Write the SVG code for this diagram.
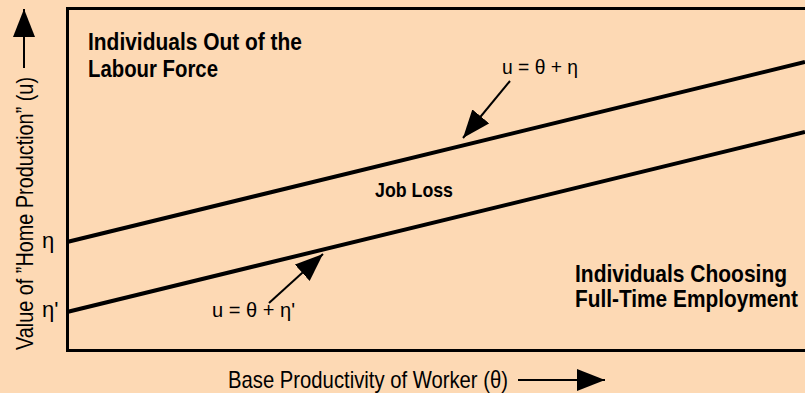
<svg xmlns="http://www.w3.org/2000/svg" width="805" height="393" viewBox="0 0 805 393">
<defs>
<style>
.bg{fill:#FDD9B4}
.frame{fill:none;stroke:#000;stroke-width:3}
.curve{fill:none;stroke:#000;stroke-width:4}
.arr{fill:none;stroke:#000;stroke-width:2;marker-end:url(#head)}
.bold{font-family:"Liberation Sans",Arial,sans-serif;font-weight:bold;font-size:24px;fill:#000}
.reg{font-family:"Liberation Sans",Arial,sans-serif;font-size:24px;fill:#000}
.eq{font-family:"Liberation Sans",Arial,sans-serif;font-size:21px;fill:#000}
</style>
<marker id="head" markerUnits="userSpaceOnUse" markerWidth="28" markerHeight="22" refX="28" refY="11" orient="auto">
<path d="M0,0 L28,11 L0,22 Z" fill="#000"/>
</marker>
</defs>
<rect class="bg" x="0" y="0" width="805" height="393"/>
<g id="frame">
<path class="frame" d="M805,8.5 H67.5 V350.5 H805"/>
</g>
<g id="connectors">
<line id="line-eta" class="curve" x1="67" y1="242" x2="805" y2="62"/>
<line id="line-eta-prime" class="curve" x1="67" y1="312" x2="805" y2="132"/>
<line class="arr" x1="510" y1="81" x2="463" y2="138"/>
<line class="arr" x1="269" y1="303" x2="323" y2="254"/>
<line class="arr" x1="24" y1="68" x2="24" y2="9"/>
<line class="arr" x1="518" y1="380" x2="605" y2="380"/>
</g>
<g id="region-out">
<text class="bold" x="88" y="50" textLength="214" lengthAdjust="spacingAndGlyphs">Individuals Out of the</text>
<text class="bold" x="88" y="77" textLength="130" lengthAdjust="spacingAndGlyphs">Labour Force</text>
</g>
<g id="region-job-loss">
<text class="bold" x="375" y="197" style="font-size:21px" textLength="78" lengthAdjust="spacingAndGlyphs">Job Loss</text>
</g>
<g id="region-employment">
<text class="bold" x="575" y="282" textLength="212" lengthAdjust="spacingAndGlyphs">Individuals Choosing</text>
<text class="bold" x="575" y="307" textLength="223" lengthAdjust="spacingAndGlyphs">Full-Time Employment</text>
</g>
<g id="label-eq1">
<text class="eq" x="502" y="74" textLength="76" lengthAdjust="spacingAndGlyphs">u = θ + η</text>
</g>
<g id="label-eq2">
<text class="eq" x="212" y="317" textLength="83" lengthAdjust="spacingAndGlyphs">u = θ + η'</text>
</g>
<g id="axis-ticks">
<text class="reg" x="42" y="248" style="font-size:22px">η</text>
<text class="reg" x="42" y="317" style="font-size:22px">η'</text>
</g>
<g id="axis-x">
<text class="reg" x="228" y="388" textLength="280" lengthAdjust="spacingAndGlyphs">Base Productivity of Worker (θ)</text>
</g>
<g id="axis-y">
<text class="reg" transform="translate(33,350) rotate(-90)" x="0" y="0" textLength="273" lengthAdjust="spacingAndGlyphs">Value of ”Home Production” (u)</text>
</g>
</svg>
